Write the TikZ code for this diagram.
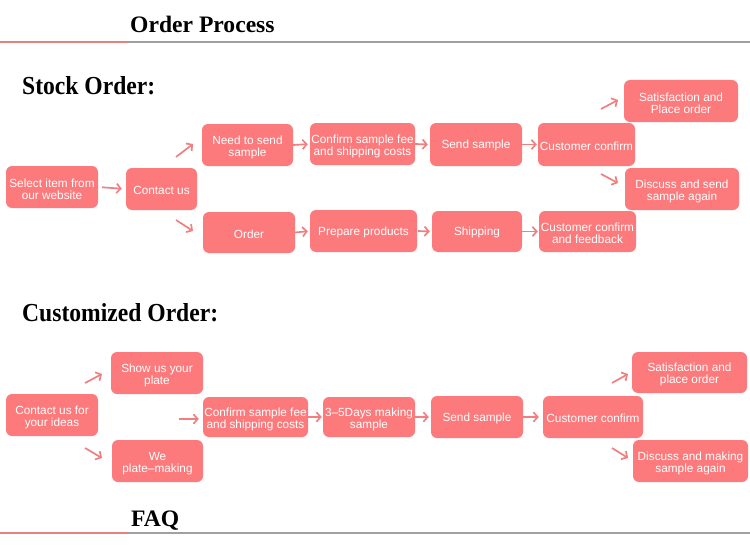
\documentclass[tikz,border=0pt]{standalone}
\usepackage{fontspec}
\setmainfont{Liberation Serif}
\newfontfamily\boxfont{Liberation Sans}
\usetikzlibrary{arrows.meta}
\definecolor{boxc}{RGB}{252,122,124}
\definecolor{arrc}{RGB}{240,128,128}
\definecolor{redl}{RGB}{232,128,128}
\definecolor{greyl}{RGB}{160,160,160}
\begin{document}
\begin{tikzpicture}[x=1pt,y=-1pt,
  bx/.style={rectangle, rounded corners=6pt, fill=boxc, text=white, inner sep=0pt,
    align=center, font=\boxfont\fontsize{11.8}{12.2}\selectfont,
    execute at begin node={\rule{0pt}{11.3pt}}},
  bxtwo/.style={bx, execute at begin node={\rule{0pt}{25pt}}},
  arr/.style={draw=arrc, line width=1.7pt, -{Straight Barb[length=4.2pt,width=9.5pt]}},
  ttl/.style={anchor=base west, inner sep=0pt, font=\fontsize{23.6}{26}\selectfont\bfseries},
  rl/.style={draw=redl, line width=1.2pt},
  gl/.style={draw=greyl, line width=1.2pt}]
\useasboundingbox (0,0) rectangle (750,551);

% header lines
\coordinate (l1a) at (0,42); \coordinate (l1b) at (127,42); \coordinate (l1c) at (750,42);
\draw[rl] (l1a) -- (l1b);
\draw[gl] (l1b) -- (l1c);
\coordinate (l2a) at (0,533); \coordinate (l2b) at (127,533); \coordinate (l2c) at (750,533);
\draw[rl] (l2a) -- (l2b);
\draw[gl] (l2b) -- (l2c);

% titles
\node[ttl] (t1) at (130,32.3) {Order Process};
\node[ttl, yscale=1.1, transform shape] (t2) at (22,94.5) {Stock Order:};
\node[ttl, yscale=1.1, transform shape] (t3) at (22,321.5) {Customized Order:};
\node[ttl] (t4) at (131,526) {FAQ};

% ---------- Stock order ----------
\node[bxtwo, minimum width=92pt, minimum height=42pt] (sel) at (52,187) {Select item from\\our website};
\node[bx, minimum width=71pt, minimum height=42pt] (con) at (161.5,189) {Contact us};
\node[bxtwo, minimum width=91pt, minimum height=42pt] (need) at (247.5,145) {Need to send\\sample};
\node[bx, minimum width=92pt, minimum height=41pt] (ord) at (249,232.5) {Order};
\node[bxtwo, minimum width=105pt, minimum height=42pt] (conf) at (362.5,144) {Confirm sample fee\\and shipping costs};
\node[bx, minimum width=92pt, minimum height=43pt] (send) at (476,144.5) {Send sample};
\node[bx, minimum width=97pt, minimum height=43pt] (cc) at (586.5,144.5) {Customer confirm};
\node[bxtwo, minimum width=114pt, minimum height=42pt] (sat) at (681,101) {Satisfaction and\\Place order};
\node[bxtwo, minimum width=114pt, minimum height=42pt] (dis) at (682,189) {Discuss and send\\sample again};
\node[bx, minimum width=107pt, minimum height=42pt] (prep) at (363.5,231) {Prepare products};
\node[bx, minimum width=90pt, minimum height=41pt] (ship) at (477,231.5) {Shipping};
\node[bxtwo, minimum width=97pt, minimum height=41pt] (ccf) at (587.5,231.5) {Customer confirm\\and feedback};

\draw[arr, shorten <=4pt, shorten >=4pt] (sel.east) -- (con.west);
\draw[arr, shorten >=2pt] (need.east) -- (conf.west);
\draw[arr, shorten >=2pt] (ord.east) -- (prep.west);
\draw[arr, shorten >=2pt] (conf.east) -- (send.west);
\draw[arr, shorten >=1pt] (send.east) -- (cc.west);
\draw[arr, shorten <=1pt, shorten >=2pt] (prep.east) -- (ship.west);
\draw[arr, shorten >=1pt] (ship.east) -- (ccf.west);

\coordinate (d1s) at (176,157); \coordinate (d1e) at (193,144);
\coordinate (d2s) at (176,220); \coordinate (d2e) at (193,231);
\coordinate (d3s) at (601,109); \coordinate (d3e) at (618,100);
\coordinate (d4s) at (601,174); \coordinate (d4e) at (618,183);
\draw[arr] (d1s) -- (d1e);
\draw[arr] (d2s) -- (d2e);
\draw[arr] (d3s) -- (d3e);
\draw[arr] (d4s) -- (d4e);

% ---------- Customized order ----------
\node[bxtwo, minimum width=92pt, minimum height=42pt] (cus) at (52,415) {Contact us for\\your ideas};
\node[bxtwo, minimum width=92pt, minimum height=42pt] (show) at (157,373) {Show us your\\plate};
\node[bxtwo, minimum width=91pt, minimum height=42pt] (we) at (157.5,461) {We\\plate–making};
\node[bxtwo, minimum width=105pt, minimum height=40pt] (conf2) at (255.5,417) {Confirm sample fee\\and shipping costs};
\node[bxtwo, minimum width=92pt, minimum height=40pt] (days) at (369,417) {3–5Days making\\sample};
\node[bx, minimum width=92pt, minimum height=42pt] (send2) at (477,417) {Send sample};
\node[bx, minimum width=100pt, minimum height=42pt] (cc2) at (593,417) {Customer confirm};
\node[bxtwo, minimum width=115pt, minimum height=41pt] (sat2) at (689.5,372.5) {Satisfaction and\\place order};
\node[bxtwo, minimum width=115pt, minimum height=42pt] (dis2) at (690.5,461) {Discuss and making\\sample again};

\draw[arr, shorten >=1pt] (conf2.east) -- (days.west);
\draw[arr, shorten <=-1pt, shorten >=2pt] (days.east) -- (send2.west);
\draw[arr, shorten >=4pt] (send2.east) -- (cc2.west);

\coordinate (e1s) at (85,383); \coordinate (e1e) at (102,374);
\coordinate (e2s) at (85,448); \coordinate (e2e) at (102,458);
\coordinate (e3s) at (179,419);
\coordinate (e4s) at (612,383); \coordinate (e4e) at (628,374);
\coordinate (e5s) at (612,448); \coordinate (e5e) at (628,458);
\draw[arr] (e1s) -- (e1e);
\draw[arr] (e2s) -- (e2e);
\draw[arr, shorten >=4pt] (e3s) -- (e3s -| conf2.west);
\draw[arr] (e4s) -- (e4e);
\draw[arr] (e5s) -- (e5e);
\end{tikzpicture}
\end{document}
